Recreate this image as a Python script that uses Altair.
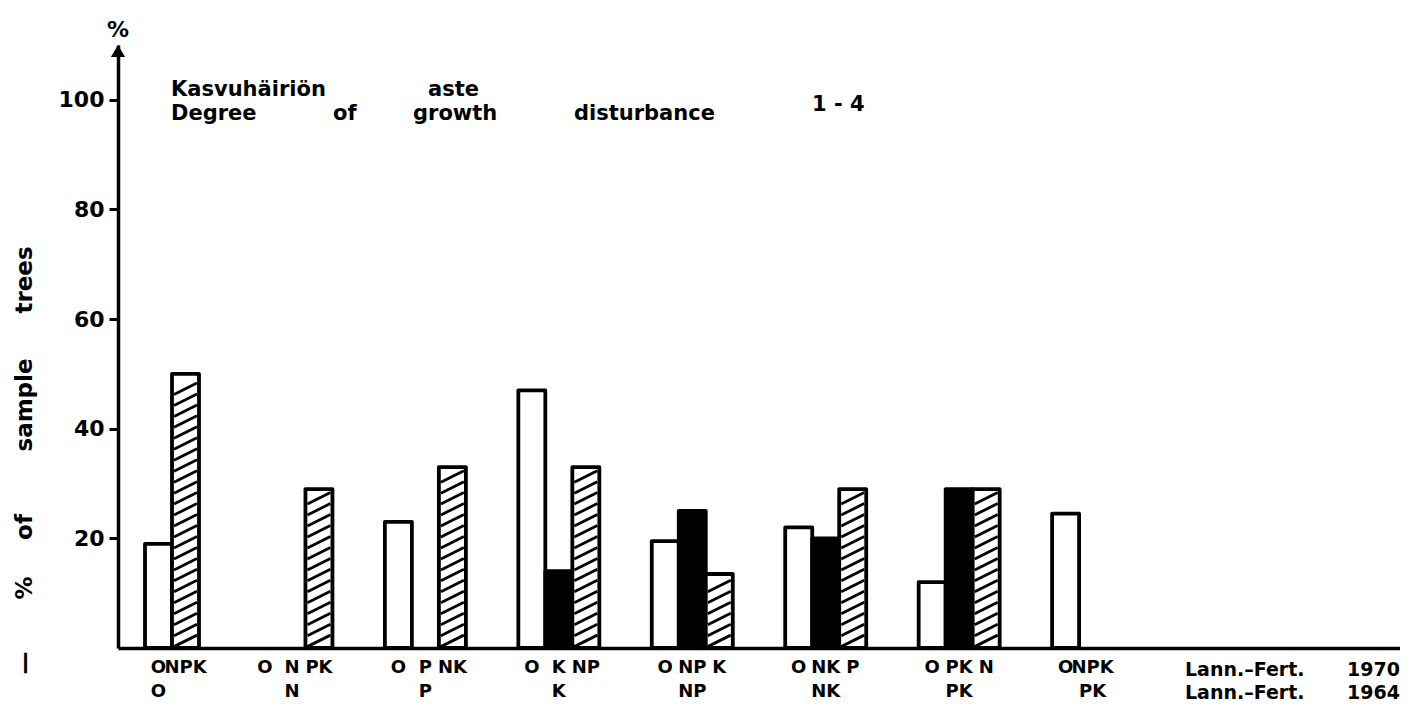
import altair as alt
import pandas as pd

# ---------------- data ----------------
group_ids = ["g1", "g2", "g3", "g4", "g5", "g6", "g7", "g8"]
group_labels_1964 = ["O", "N", "P", "K", "NP", "NK", "PK", "PK"]
slots = ["1", "2", "3"]
treat_1970 = [
    ["", "O", "NPK"],
    ["O", "N", "PK"],
    ["O", "P", "NK"],
    ["O", "K", "NP"],
    ["O", "NP", "K"],
    ["O", "NK", "P"],
    ["O", "PK", "N"],
    ["O", "NPK", ""],
]
series_1970 = [
    ["", "control", "complement"],
    ["control", "same", "complement"],
    ["control", "same", "complement"],
    ["control", "same", "complement"],
    ["control", "same", "complement"],
    ["control", "same", "complement"],
    ["control", "same", "complement"],
    ["control", "complement", ""],
]
values = [
    [None, 19, 50],
    [0, 0, 29],
    [23, 0, 33],
    [47, 14, 33],
    [19.5, 25, 13.5],
    [22, 20, 29],
    [12, 29, 29],
    [24.5, 0, None],
]
y_ticks = [20, 40, 60, 80, 100]

rows = []
for gi, gid in enumerate(group_ids):
    for si, s in enumerate(slots):
        if treat_1970[gi][si] == "":
            continue
        rows.append({
            "group": gid,
            "label1964": group_labels_1964[gi],
            "slot": s,
            "treat": treat_1970[gi][si],
            "series": series_1970[gi][si],
            "value": values[gi][si] if values[gi][si] is not None else 0,
        })
df = pd.DataFrame(rows)
df_groups = pd.DataFrame({"group": group_ids, "label1964": group_labels_1964})

W, H = 1282, 603
FONT = "DejaVu Sans"

x_enc = alt.X("group:N",
              scale=alt.Scale(domain=group_ids + ["x1", "x2"], paddingInner=0.393, paddingOuter=0),
              axis=alt.Axis(labels=False, ticks=False, title=None, domain=True,
                            domainColor="black", domainWidth=3.5))
xo_enc = alt.XOffset("slot:N", scale=alt.Scale(domain=slots, paddingInner=0, paddingOuter=0))
y_scale = alt.Scale(domain=[0, 110], nice=False, zero=True)

base = alt.Chart(df)

bars = base.transform_filter("datum.value > 0").mark_bar(
    stroke="black", strokeWidth=3.8, strokeJoin="round"
).encode(
    x=x_enc,
    xOffset=xo_enc,
    y=alt.Y("value:Q", scale=y_scale,
            axis=alt.Axis(values=y_ticks, title=None, grid=False, tickSize=9, tickWidth=3,
                          tickColor="black", domainColor="black", domainWidth=3.5,
                          labelFont=FONT, labelFontWeight="bold", labelFontSize=22,
                          labelColor="black", labelPadding=5)),
    fill=alt.Fill("series:N",
                  scale=alt.Scale(domain=["control", "same", "complement"],
                                  range=["white", "black", "white"]),
                  legend=None),
)

hatch = base.transform_filter(
    "datum.series == 'complement' && datum.value > 0"
).transform_calculate(
    hy="sequence(1.3, datum.value - 1.1, 2.0)"
).transform_flatten(["hy"]).mark_point(
    shape="M-1,0.5L1,-0.5", size=529, stroke="black", strokeWidth=2.8, filled=False, opacity=1
).encode(
    x=x_enc,
    xOffset=xo_enc,
    y=alt.Y("hy:Q", scale=y_scale),
)

labels1970 = base.mark_text(
    font=FONT, fontWeight="bold", fontSize=18, color="black", baseline="middle"
).encode(
    x=x_enc, xOffset=xo_enc, y=alt.value(H + 20), text="treat:N"
)

labels1964 = alt.Chart(df_groups).mark_text(
    font=FONT, fontWeight="bold", fontSize=18, color="black", baseline="middle"
).encode(
    x=x_enc, y=alt.value(H + 44), text="label1964:N"
)

one = pd.DataFrame({"k": [0]})


def txt(t, x, y, size=21, align="left", baseline="alphabetic", angle=0):
    kw = dict(text=t, font=FONT, fontWeight="bold", fontSize=size, color="black",
              align=align, baseline=baseline)
    if angle:
        kw["angle"] = angle
    return alt.Chart(one).mark_text(**kw).encode(x=alt.value(x), y=alt.value(y))


annotations = [
    txt("Kasvuhäiriön", 53, 51),
    txt("aste", 310, 51),
    txt("Degree", 53, 75),
    txt("of", 215, 75),
    txt("growth", 295, 75),
    txt("disturbance", 456, 75),
    txt("1 - 4", 694, 60, baseline="middle"),
    txt("%", 0, -15, size=22, align="center", baseline="middle"),
    txt("Lann.–Fert.", 1067, H + 22, size=19, baseline="middle"),
    txt("1970", 1229, H + 22, size=19, baseline="middle"),
    txt("Lann.–Fert.", 1067, H + 45, size=19, baseline="middle"),
    txt("1964", 1229, H + 45, size=19, baseline="middle"),
    txt("trees", -93, 235, size=23, align="center", baseline="middle", angle=270),
    txt("sample", -93, 360, size=23, align="center", baseline="middle", angle=270),
    txt("of", -93, 482, size=23, align="center", baseline="middle", angle=270),
    txt("%", -93, 543, size=23, align="center", baseline="middle", angle=270),
    txt("—", -93, 618, size=23, align="center", baseline="middle", angle=270),
]

arrow = alt.Chart(one).mark_point(
    shape="triangle-up", filled=True, color="black", size=200, opacity=1
).encode(x=alt.value(0), y=alt.value(6))

chart = alt.layer(bars, hatch, labels1970, labels1964, arrow, *annotations).properties(
    width=W, height=H,
    padding={"left": 110, "top": 37, "right": 0, "bottom": 58},
    autosize=alt.AutoSizeParams(type="none"),
    background="white",
).configure_view(stroke=None)

chart.save("out.html", embed_options={"renderer": "svg", "actions": False})
